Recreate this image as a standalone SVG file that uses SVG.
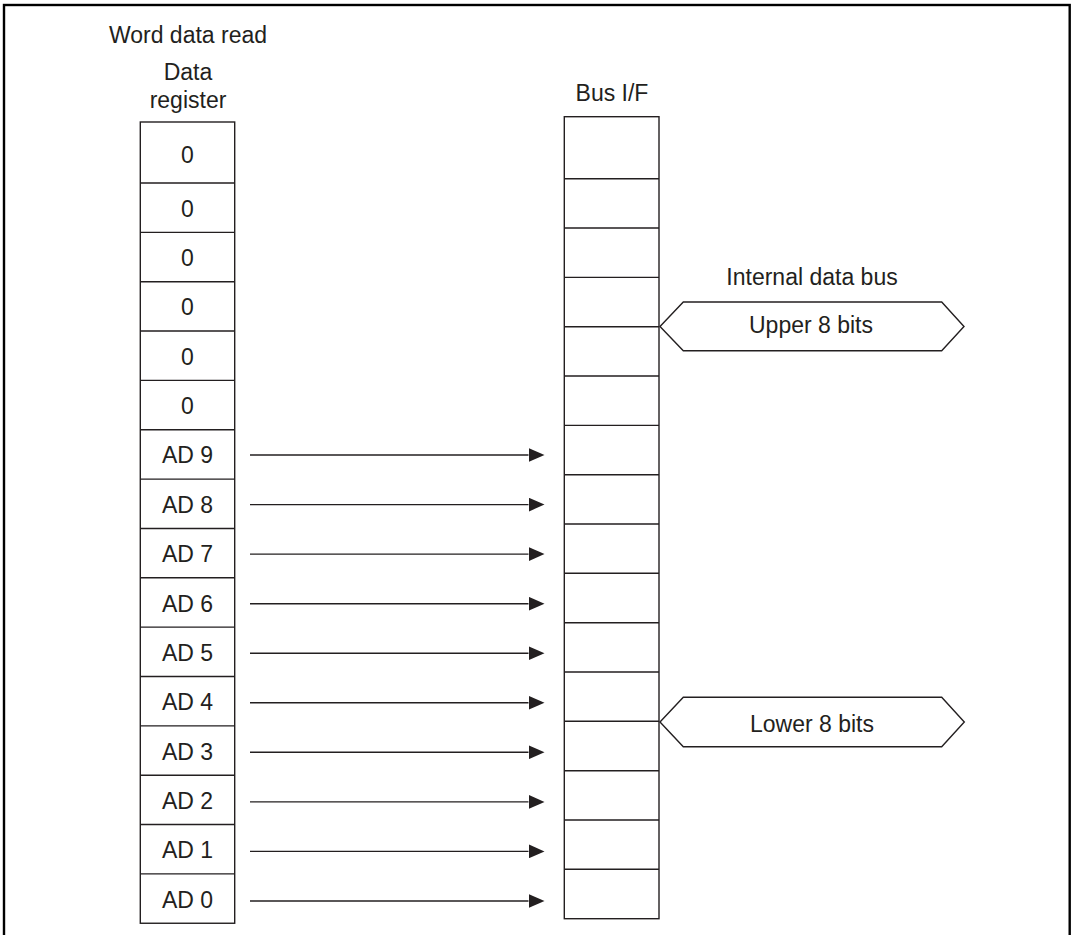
<svg xmlns="http://www.w3.org/2000/svg" width="1073" height="935" viewBox="0 0 1073 935">
<defs>
<style>
.t{font-family:"Liberation Sans",Arial,sans-serif;font-size:23px;fill:#231f20;text-anchor:middle}
.c{fill:#fff;stroke:#231f20;stroke-width:1.4}
.d{stroke:#231f20;stroke-width:1.4;fill:none}
.a{stroke:#231f20;stroke-width:1.4;fill:none;marker-end:url(#ah)}
</style>
<marker id="ah" markerUnits="userSpaceOnUse" viewBox="0 0 16 14" refX="0" refY="7" markerWidth="16" markerHeight="14" orient="auto">
<path d="M0,0 L16,7 L0,14 z" fill="#231f20"/>
</marker>
</defs>
<rect width="1073" height="935" fill="#fff"/>
<rect x="4" y="5" width="1065.7" height="1000" fill="none" stroke="#000" stroke-width="2.4"/>

<g id="labels">
<text class="t" x="188" y="42.7">Word data read</text>
<text class="t" x="188" y="80">Data</text>
<text class="t" x="188" y="108">register</text>
<text class="t" x="612" y="100.7">Bus I/F</text>
<text class="t" x="812" y="285">Internal data bus</text>
</g>

<g id="data-register">
<rect class="c" x="140.3" y="122" width="94.4" height="801.25"/>
<path class="d" d="M140.3,183H234.7M140.3,232.35H234.7M140.3,281.7H234.7M140.3,331.05H234.7M140.3,380.4H234.7M140.3,429.75H234.7M140.3,479.1H234.7M140.3,528.45H234.7M140.3,577.8H234.7M140.3,627.15H234.7M140.3,676.5H234.7M140.3,725.85H234.7M140.3,775.2H234.7M140.3,824.55H234.7M140.3,873.9H234.7"/>
<text class="t" x="187.5" y="163.3">0</text>
<text class="t" x="187.5" y="216.7">0</text>
<text class="t" x="187.5" y="266">0</text>
<text class="t" x="187.5" y="315.4">0</text>
<text class="t" x="187.5" y="364.7">0</text>
<text class="t" x="187.5" y="414.1">0</text>
<text class="t" x="187.5" y="463.4">AD 9</text>
<text class="t" x="187.5" y="512.8">AD 8</text>
<text class="t" x="187.5" y="562.1">AD 7</text>
<text class="t" x="187.5" y="611.5">AD 6</text>
<text class="t" x="187.5" y="660.8">AD 5</text>
<text class="t" x="187.5" y="710.2">AD 4</text>
<text class="t" x="187.5" y="759.5">AD 3</text>
<text class="t" x="187.5" y="808.9">AD 2</text>
<text class="t" x="187.5" y="858.2">AD 1</text>
<text class="t" x="187.5" y="907.6">AD 0</text>
</g>

<g id="bus-if">
<rect class="c" x="564.3" y="116.7" width="94.7" height="802"/>
<path class="d" d="M564.3,178.7H659M564.3,228H659M564.3,277.4H659M564.3,326.7H659M564.3,376H659M564.3,425.4H659M564.3,474.7H659M564.3,524H659M564.3,573.3H659M564.3,622.7H659M564.3,672H659M564.3,721.3H659M564.3,770.7H659M564.3,820H659M564.3,869.3H659"/>
</g>

<g id="upper-bus">
<polygon class="c" points="660,326.5 683.3,302 941.7,302 964,326.5 941.7,350.8 683.3,350.8"/>
<text class="t" x="811" y="332.7">Upper 8 bits</text>
</g>

<g id="lower-bus">
<polygon class="c" points="660,722 683.3,697.3 941.7,697.3 964.3,722 941.7,746.7 683.3,746.7"/>
<text class="t" x="812" y="731.7">Lower 8 bits</text>
</g>

<g id="connectors">
<line class="a" x1="250" y1="455" x2="528.5" y2="455"/>
<line class="a" x1="250" y1="504.6" x2="528.5" y2="504.6"/>
<line class="a" x1="250" y1="554.1" x2="528.5" y2="554.1"/>
<line class="a" x1="250" y1="603.7" x2="528.5" y2="603.7"/>
<line class="a" x1="250" y1="653.2" x2="528.5" y2="653.2"/>
<line class="a" x1="250" y1="702.8" x2="528.5" y2="702.8"/>
<line class="a" x1="250" y1="752.3" x2="528.5" y2="752.3"/>
<line class="a" x1="250" y1="801.9" x2="528.5" y2="801.9"/>
<line class="a" x1="250" y1="851.4" x2="528.5" y2="851.4"/>
<line class="a" x1="250" y1="901" x2="528.5" y2="901"/>
</g>
</svg>
